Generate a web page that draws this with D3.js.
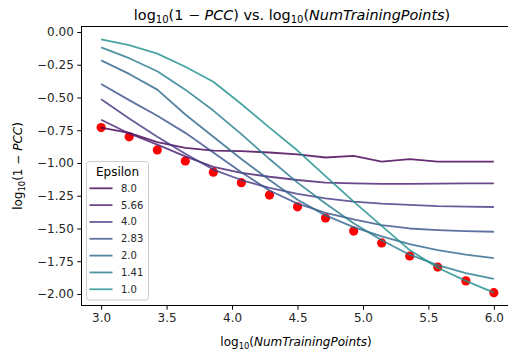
<!DOCTYPE html>
<html>
<head>
<meta charset="utf-8">
<script src="https://cdn.jsdelivr.net/npm/d3@7"></script>
<style>
  html, body { margin: 0; padding: 0; background: #ffffff; }
  svg { display: block; font-family: "DejaVu Sans", sans-serif; }
</style>
</head>
<body>
<script>
// log10 of the number of training points
const logN = [3.0, 3.214, 3.429, 3.643, 3.857, 4.071, 4.286, 4.5, 4.714, 4.929, 5.143, 5.357, 5.571, 5.786, 6.0];

// non-private baseline (red markers)
const baseline = [-0.73, -0.80, -0.90, -0.985, -1.07, -1.15, -1.245, -1.335, -1.42, -1.52, -1.61, -1.71, -1.795, -1.90, -1.99];

// privacy budgets, in legend order
const epsilons = ["8.0", "5.66", "4.0", "2.83", "2.0", "1.41", "1.0"];

// log10(1 - PCC) for each epsilon
const eps80  = [-0.73, -0.77, -0.84, -0.885, -0.905, -0.91, -0.92, -0.935, -0.958, -0.945, -0.99, -0.97, -0.99, -0.99, -0.99];
const eps566 = [-0.67, -0.775, -0.86, -0.95, -1.03, -1.075, -1.105, -1.13, -1.15, -1.155, -1.16, -1.16, -1.157, -1.155, -1.155];
const eps40  = [-0.513, -0.66, -0.80, -0.93, -1.05, -1.13, -1.19, -1.235, -1.27, -1.295, -1.31, -1.32, -1.33, -1.333, -1.336];
const eps283 = [-0.397, -0.52, -0.64, -0.77, -0.92, -1.07, -1.21, -1.31, -1.38, -1.43, -1.475, -1.50, -1.512, -1.52, -1.525];
const eps20  = [-0.217, -0.32, -0.44, -0.63, -0.80, -0.97, -1.13, -1.28, -1.40, -1.49, -1.56, -1.62, -1.665, -1.70, -1.727];
const eps141 = [-0.117, -0.20, -0.30, -0.44, -0.60, -0.78, -0.97, -1.15, -1.31, -1.46, -1.59, -1.70, -1.78, -1.84, -1.884];
const eps10  = [-0.056, -0.10, -0.165, -0.265, -0.38, -0.55, -0.73, -0.905, -1.10, -1.295, -1.48, -1.665, -1.80, -1.90, -1.99];

const seriesValues = [eps80, eps566, eps40, eps283, eps20, eps141, eps10];

const xTicks = [3.0, 3.5, 4.0, 4.5, 5.0, 5.5, 6.0];
const yTicks = [0, -0.25, -0.5, -0.75, -1.0, -1.25, -1.5, -1.75, -2.0];

const W = 508, H = 354;
const plot = { left: 81.5, right: 513.5, top: 26.5, bottom: 305.5 };

const svg = d3.select("body").append("svg")
  .attr("width", W).attr("height", H);

const x = d3.scaleLinear().domain([2.85, 6.15]).range([plot.left, plot.right]);
const y = d3.scaleLinear().domain([-2.088, 0.042]).range([plot.bottom, plot.top]);

const color = d3.scaleOrdinal()
  .domain(epsilons)
  .range(epsilons.map((e, i) => d3.interpolateViridis(i / 12)));

const minus = s => s.replace("-", "\u2212");

// axes
const xAxis = svg.append("g")
  .attr("transform", `translate(0,${plot.bottom})`)
  .call(d3.axisBottom(x).tickValues(xTicks).tickFormat(d3.format(".1f"))
        .tickSize(4.2).tickPadding(3.5));
const yAxis = svg.append("g")
  .attr("transform", `translate(${plot.left},0)`)
  .call(d3.axisLeft(y).tickValues(yTicks).tickFormat(d => minus(d3.format(".2f")(d)))
        .tickSize(4.2).tickPadding(3.5));
[xAxis, yAxis].forEach(g => {
  g.select(".domain").remove();
  g.selectAll(".tick line").attr("stroke", "#000").attr("stroke-width", 1);
  g.selectAll(".tick text").attr("fill", "#262626")
    .style("font-size", "12px").style("font-family", "DejaVu Sans");
});

// baseline markers
svg.append("g").selectAll("circle")
  .data(baseline)
  .join("circle")
  .attr("cx", (d, i) => x(logN[i]))
  .attr("cy", d => y(d))
  .attr("r", 4.6)
  .attr("fill", "#ff0000");

// one line per epsilon
const line = d3.line()
  .x((d, i) => x(logN[i]))
  .y(d => y(d));

svg.append("g").selectAll("path")
  .data(seriesValues)
  .join("path")
  .attr("d", d => line(d))
  .attr("fill", "none")
  .attr("stroke", (d, i) => color(epsilons[i]))
  .attr("stroke-opacity", 0.82)
  .attr("stroke-width", 1.8)
  .attr("stroke-linejoin", "round");

// frame
svg.append("rect")
  .attr("x", plot.left).attr("y", plot.top)
  .attr("width", plot.right - plot.left).attr("height", plot.bottom - plot.top)
  .attr("fill", "none").attr("stroke", "#000").attr("stroke-width", 1);

// text with a log10 subscript and italic variables
function mathLabel(sel, parts, size) {
  parts.forEach(p => {
    const t = sel.append("tspan").text(p.t);
    if (p.sub) t.style("font-size", (size * 0.7) + "px").attr("dy", size * 0.22);
    if (p.after) t.attr("dy", -size * 0.22);
    if (p.it) t.style("font-style", "italic");
  });
}

const title = svg.append("text")
  .attr("x", 292).attr("y", 20)
  .attr("text-anchor", "middle")
  .style("font-size", "14.4px").attr("fill", "#000");
mathLabel(title, [
  { t: "log" }, { t: "10", sub: true }, { t: "(1 \u2212 ", after: true },
  { t: "PCC", it: true }, { t: ") vs. log" }, { t: "10", sub: true },
  { t: "(", after: true }, { t: "NumTrainingPoints", it: true }, { t: ")" }
], 14.4);

const xl = svg.append("text")
  .attr("x", 296).attr("y", 346)
  .attr("text-anchor", "middle")
  .style("font-size", "12px").attr("fill", "#000");
mathLabel(xl, [
  { t: "log" }, { t: "10", sub: true }, { t: "(", after: true },
  { t: "NumTrainingPoints", it: true }, { t: ")" }
], 12);

const yl = svg.append("text")
  .attr("transform", `translate(22,166) rotate(-90)`)
  .attr("text-anchor", "middle")
  .style("font-size", "12px").attr("fill", "#000");
mathLabel(yl, [
  { t: "log" }, { t: "10", sub: true }, { t: "(1 \u2212 ", after: true },
  { t: "PCC", it: true }, { t: ")" }
], 12);

// legend
const lg = svg.append("g");
lg.append("rect")
  .attr("x", 86.5).attr("y", 161.5).attr("width", 62).attr("height", 138.5)
  .attr("rx", 3).attr("fill", "#fff").attr("fill-opacity", 0.8)
  .attr("stroke", "#cccccc").attr("stroke-width", 1);
lg.append("text")
  .attr("x", 117.5).attr("y", 176)
  .attr("text-anchor", "middle")
  .style("font-size", "12px").attr("fill", "#000")
  .text("Epsilon");
const items = lg.selectAll("g.item")
  .data(epsilons)
  .join("g")
  .attr("class", "item")
  .attr("transform", (d, i) => `translate(0,${188.3 + i * 16.83})`);
items.append("line")
  .attr("x1", 89.5).attr("x2", 112.5)
  .attr("stroke", d => color(d)).attr("stroke-opacity", 0.82)
  .attr("stroke-width", 1.8);
items.append("text")
  .attr("x", 121).attr("dy", "0.35em")
  .style("font-size", "10px").attr("fill", "#262626")
  .text(d => d);
</script>
</body>
</html>
